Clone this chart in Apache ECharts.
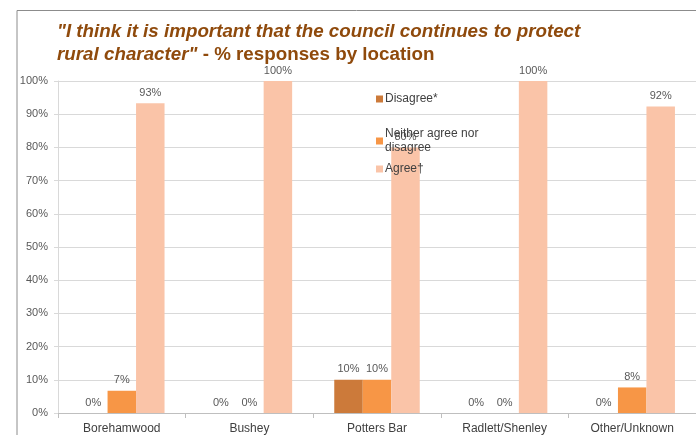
<!DOCTYPE html>
<html>
<head>
<meta charset="utf-8">
<script src="https://cdn.jsdelivr.net/npm/echarts@6/dist/echarts.min.js"></script>
<style>
html,body{margin:0;padding:0;background:#fff;}
#chart{width:696px;height:435px;}
</style>
</head>
<body>
<div id="chart"></div>
<script>
var categories = ['Borehamwood', 'Bushey', 'Potters Bar', 'Radlett/Shenley', 'Other/Unknown'];
var disagree = [0, 0, 10, 0, 0];
var neither = [6.7, 0, 10, 0, 7.7];
var agree = [93.3, 100, 80, 100, 92.3];
var yTicks = [0, 10, 20, 30, 40, 50, 60, 70, 80, 90, 100];

var FONT = '"Liberation Sans", Arial, sans-serif';
var chart = echarts.init(document.getElementById('chart'));

function lbl() {
  return {
    show: true, position: 'top', distance: 5,
    color: '#595959', fontSize: 11, fontFamily: FONT,
    formatter: function (p) { return Math.round(p.value) + '%'; }
  };
}
function legendAt(name, top, fmt) {
  return {
    data: [name], left: 371, top: top, orient: 'vertical',
    icon: 'rect', itemWidth: 7, itemHeight: 7, itemGap: 0,
    selectedMode: false,
    formatter: fmt,
    textStyle: { color: '#404040', fontSize: 12, fontFamily: FONT, lineHeight: 14, padding: [0, 0, 0, -3] }
  };
}

chart.setOption({
  backgroundColor: '#ffffff',
  animation: false,
  graphic: [
    { type: 'polyline', shape: { points: [[17, 435], [17, 10.5], [696, 10.5]] },
      style: { stroke: '#8c8c8c', lineWidth: 1, fill: null } }
  ],
  title: {
    left: 52, top: 15,
    text: '{i|"I think it is important that the council continues to protect}\n{i|rural character"}{b| - % responses by location}',
    textStyle: {
      rich: {
        i: { fontFamily: FONT, fontSize: 18.8, fontWeight: 'bold', fontStyle: 'italic', color: '#8f4a0c', lineHeight: 23 },
        b: { fontFamily: FONT, fontSize: 18.8, fontWeight: 'bold', color: '#8f4a0c', lineHeight: 23 }
      }
    }
  },
  legend: [
    legendAt('Disagree*', 87),
    legendAt('Neither agree nor disagree', 122, function () { return 'Neither agree nor\ndisagree'; }),
    legendAt('Agree\u2020', 157)
  ],
  grid: { left: 58, right: -4, top: 81, bottom: 21, containLabel: false },
  xAxis: {
    type: 'category', data: categories,
    axisLine: { lineStyle: { color: '#bfbfbf' } },
    axisTick: { show: true, length: 5, lineStyle: { color: '#bfbfbf' } },
    axisLabel: { color: '#404040', fontSize: 12, fontFamily: FONT, margin: 10, interval: 0 }
  },
  yAxis: {
    type: 'value', min: 0, max: 100, interval: 10,
    axisLine: { show: true, lineStyle: { color: '#d9d9d9' } },
    axisTick: { show: true, length: 4, lineStyle: { color: '#d9d9d9' } },
    axisLabel: { color: '#595959', fontSize: 11, fontFamily: FONT, margin: 10,
      formatter: function (v) { return yTicks.indexOf(v) >= 0 ? v + '%' : ''; } },
    splitLine: { lineStyle: { color: '#d9d9d9' } }
  },
  series: [
    { name: 'Disagree*', type: 'bar', data: disagree, itemStyle: { color: '#cc7a3a' },
      barGap: '0%', barCategoryGap: '33%', label: lbl() },
    { name: 'Neither agree nor disagree', type: 'bar', data: neither, itemStyle: { color: '#f79646' },
      label: lbl() },
    { name: 'Agree\u2020', type: 'bar', data: agree, itemStyle: { color: '#fac4a8' },
      label: lbl() }
  ]
});
</script>
</body>
</html>
